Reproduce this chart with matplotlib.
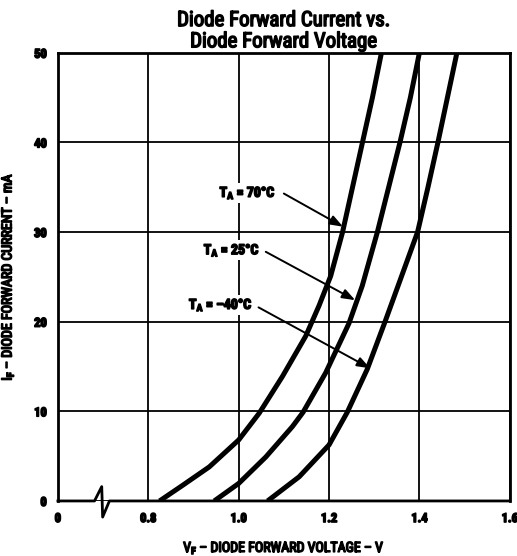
import matplotlib.pyplot as plt
import matplotlib.patheffects as pe
from matplotlib import font_manager as fm

# forward voltage (V) vs forward current (mA)
v_70 = [0.825, 0.8765, 0.935, 1.0, 1.0456, 1.097, 1.1485, 1.178, 1.2037, 1.23, 1.252, 1.274, 1.296, 1.316]
i_70 = [0, 1.76, 3.8, 6.8, 9.8, 13.9, 18.4, 21.8, 25.1, 30, 35, 40, 45, 50]
v_25 = [0.946, 1.0, 1.06, 1.119, 1.1426, 1.1926, 1.244, 1.2735, 1.307, 1.332, 1.357, 1.38, 1.40]
i_25 = [0, 1.95, 4.9, 8.3, 9.9, 14.3, 19.8, 24.0, 30, 35, 40, 45, 50]
v_m40 = [1.064, 1.134, 1.2, 1.2404, 1.2846, 1.324, 1.36, 1.396, 1.419, 1.441, 1.462, 1.483]
i_m40 = [0, 2.7, 6.25, 9.9, 14.7, 20, 25, 30, 35, 40, 45, 50]

xticks = [0.6, 0.8, 1.0, 1.2, 1.4, 1.6]
xlabels = ['0', '0.8', '1.0', '1.2', '1.4', '1.6']
yticks = [0, 10, 20, 30, 40, 50]

labels = [r'T$_\mathbf{A}$ = 70°C', r'T$_\mathbf{A}$ = 25°C', r'T$_\mathbf{A}$ = –40°C']
text_pos = [(1.082, 34.4), (1.047, 28.0), (1.031, 21.9)]
arrow_start = [(1.10, 34.3), (1.06, 27.8), (1.044, 21.6)]
arrow_tips = [(1.231, 30.6), (1.258, 22.4), (1.291, 14.8)]

# look for a narrow/condensed face, the datasheet uses one
fl = fm.fontManager.ttflist
names = {f.name for f in fl}
family, stretch = 'DejaVu Sans', 'normal'
for cand in ['Liberation Sans Narrow', 'Roboto Condensed', 'Noto Sans Condensed',
             'Open Sans Condensed', 'DejaVu Sans Condensed']:
    if cand in names:
        family = cand
        break
else:
    for base in ['Roboto', 'Noto Sans', 'Open Sans', 'DejaVu Sans']:
        if any(f.name == base and 'condensed' in str(f.stretch) for f in fl):
            family, stretch = base, 'condensed'
            break

plt.rcParams['font.family'] = [family, 'DejaVu Sans']
plt.rcParams['font.stretch'] = stretch
plt.rcParams['font.weight'] = 'bold'
plt.rcParams['mathtext.fontset'] = 'custom'
pat = f'{family}:weight=bold:stretch={stretch}'
plt.rcParams['mathtext.rm'] = pat
plt.rcParams['mathtext.bf'] = pat
plt.rcParams['mathtext.it'] = pat

# fake the heavy print weight with a thin outline
heavy = [pe.withStroke(linewidth=1.1, foreground='black')]

fig = plt.figure(figsize=(5.17, 5.56), dpi=100)
ax = fig.add_axes([0.112, 0.099, 0.874, 0.806])

for v, i in [(v_70, i_70), (v_25, i_25), (v_m40, i_m40)]:
    ax.plot(v, i, color='black', lw=3.6, solid_capstyle='butt', solid_joinstyle='round', zorder=3)

ax.set_xlim(0.6, 1.6)
ax.set_ylim(0, 50)
ax.set_xticks(xticks)
ax.set_xticklabels(xlabels)
ax.set_yticks(yticks)
ax.tick_params(length=0, labelsize=9, pad=8)
ax.grid(True, color='black', lw=1.3)
for s in ['top', 'left', 'right']:
    ax.spines[s].set_linewidth(2)
ax.spines['bottom'].set_visible(False)

# bottom axis line with the break mark
brk_x = [0.6, 0.681, 0.697, 0.699, 0.714, 1.6]
brk_y = [0, 0, 1.6, -1.8, 0, 0]
ax.plot(brk_x, brk_y, color='black', lw=2, clip_on=False, zorder=4)

for lab, pos, st, tip in zip(labels, text_pos, arrow_start, arrow_tips):
    t = ax.text(pos[0], pos[1], lab, ha='right', va='center', fontsize=10, zorder=5,
                bbox=dict(facecolor='white', edgecolor='none', pad=1))
    t.set_path_effects(heavy)
    ax.annotate('', xy=tip, xytext=st,
                arrowprops=dict(arrowstyle='-|>,head_length=0.6,head_width=0.22',
                                color='black', lw=1.4,
                                mutation_scale=13, shrinkA=0, shrinkB=0))

ttl = ax.set_title('Diode Forward Current vs.\nDiode Forward Voltage',
                   fontsize=15, pad=4, linespacing=1.15)
xl = ax.set_xlabel(r'V$_\mathbf{F}$ – DIODE FORWARD VOLTAGE – V', fontsize=10, labelpad=10)
yl = ax.set_ylabel(r'I$_\mathbf{F}$ – DIODE FORWARD CURRENT – mA', fontsize=10, labelpad=13)
for t in [ttl, xl, yl] + ax.get_xticklabels() + ax.get_yticklabels():
    t.set_path_effects(heavy)

plt.savefig('out.png', dpi=100)
